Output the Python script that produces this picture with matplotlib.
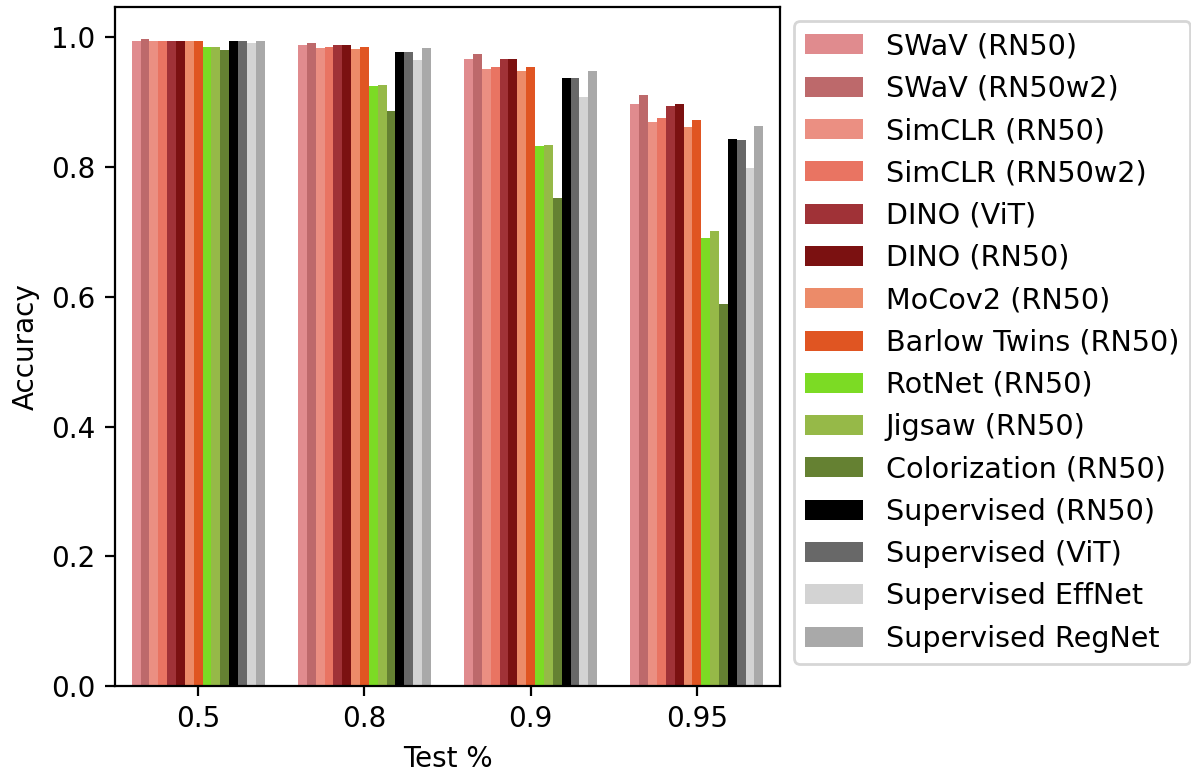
import numpy as np
import matplotlib
matplotlib.use("Agg")
import matplotlib.pyplot as plt

# -----------------------------
# Data
# -----------------------------
test_pct = ["0.5", "0.8", "0.9", "0.95"]

models = [
    "SWaV (RN50)", "SWaV (RN50w2)", "SimCLR (RN50)", "SimCLR (RN50w2)",
    "DINO (ViT)", "DINO (RN50)", "MoCov2 (RN50)", "Barlow Twins (RN50)",
    "RotNet (RN50)", "Jigsaw (RN50)", "Colorization (RN50)",
    "Supervised (RN50)", "Supervised (ViT)", "Supervised EffNet", "Supervised RegNet",
]

colors = [
    "#e08b8e", "#bd696b", "#eb8f82", "#e97462",
    "#a03237", "#7b1111", "#ec8b69", "#e05522",
    "#7cdb24", "#96b948", "#658132",
    "#000000", "#686868", "#d3d3d3", "#a9a9a9",
]

# accuracy per model, one value per test %
swav_rn50 = [0.995, 0.988, 0.966, 0.898]
swav_rn50w2 = [0.997, 0.991, 0.974, 0.911]
simclr_rn50 = [0.995, 0.983, 0.951, 0.869]
simclr_rn50w2 = [0.995, 0.985, 0.955, 0.875]
dino_vit = [0.995, 0.988, 0.966, 0.895]
dino_rn50 = [0.995, 0.988, 0.966, 0.897]
mocov2_rn50 = [0.995, 0.982, 0.949, 0.862]
barlow_rn50 = [0.995, 0.985, 0.954, 0.872]
rotnet_rn50 = [0.985, 0.925, 0.832, 0.691]
jigsaw_rn50 = [0.985, 0.926, 0.834, 0.702]
color_rn50 = [0.980, 0.886, 0.752, 0.589]
sup_rn50 = [0.994, 0.978, 0.937, 0.843]
sup_vit = [0.994, 0.978, 0.938, 0.842]
sup_effnet = [0.991, 0.965, 0.908, 0.798]
sup_regnet = [0.994, 0.983, 0.949, 0.863]

values = [
    swav_rn50, swav_rn50w2, simclr_rn50, simclr_rn50w2,
    dino_vit, dino_rn50, mocov2_rn50, barlow_rn50,
    rotnet_rn50, jigsaw_rn50, color_rn50,
    sup_rn50, sup_vit, sup_effnet, sup_regnet,
]

# -----------------------------
# Plot
# -----------------------------
plt.rcParams["font.size"] = 10

fig = plt.figure(figsize=(5.955, 3.865), dpi=200)
ax = fig.add_axes([0.0966, 0.1125, 0.5583, 0.8784])

x = np.arange(len(test_pct))
n = len(models)
width = 0.8 / n

for i, (name, vals) in enumerate(zip(models, values)):
    offset = (i - (n - 1) / 2) * width
    ax.bar(x + offset, vals, width, color=colors[i], label=name)

ax.set_xticks(x)
ax.set_xticklabels(test_pct)
ax.set_xlim(-0.5, 3.5)
ax.set_xlabel("Test %")
ax.set_ylabel("Accuracy")

fig.legend(loc="upper left", bbox_to_anchor=(794 / 1191, 1 - 21 / 773),
           bbox_transform=fig.transFigure, borderaxespad=0, fontsize=10.3)

fig.savefig("out.png", dpi=200)
